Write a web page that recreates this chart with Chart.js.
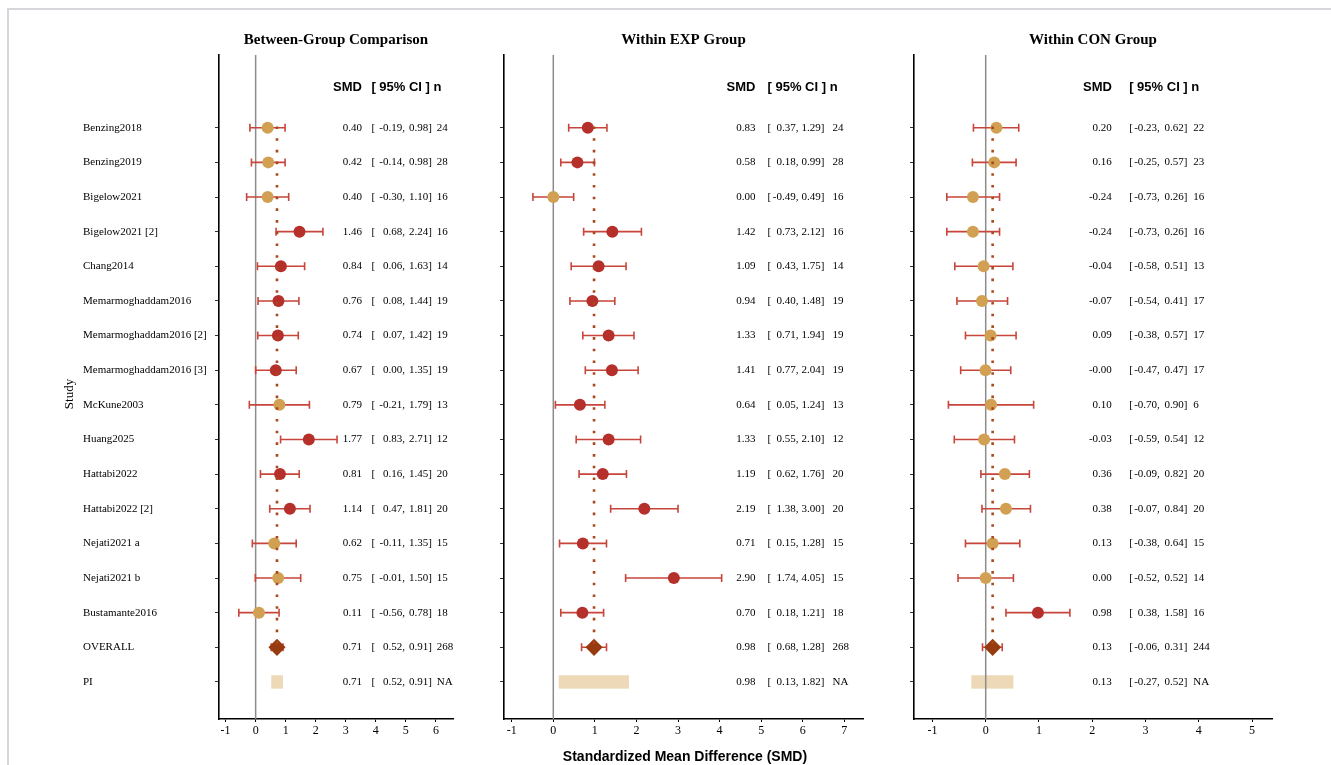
<!DOCTYPE html>
<html><head><meta charset="utf-8">
<script src="https://cdn.jsdelivr.net/npm/chart.js@4.4.1/dist/chart.umd.min.js"></script>
<style>
html,body{margin:0;padding:0;background:#fff;width:1331px;height:765px;overflow:hidden;}
#wrap{position:relative;width:1331px;height:765px;}
canvas{position:absolute;left:0;top:0;}
#frame{position:absolute;left:7px;top:8px;width:1340px;height:770px;border-top:2px solid #d6d6db;border-left:2px solid #d6d6db;}
</style></head>
<body><div id="wrap"><div id="frame"></div>
<canvas id="c1" width="1331" height="765"></canvas>
<canvas id="c2" width="1331" height="765"></canvas>
<canvas id="c3" width="1331" height="765"></canvas>
</div>
<script>
// ---------- data ----------
const studies = ['Benzing2018','Benzing2019','Bigelow2021','Bigelow2021 [2]','Chang2014','Memarmoghaddam2016','Memarmoghaddam2016 [2]','Memarmoghaddam2016 [3]','McKune2003','Huang2025','Hattabi2022','Hattabi2022 [2]','Nejati2021 a','Nejati2021 b','Bustamante2016'];
const rowLabels = [...studies, 'OVERALL', 'PI'];

const betweenSMD = [0.40,0.42,0.40,1.46,0.84,0.76,0.74,0.67,0.79,1.77,0.81,1.14,0.62,0.75,0.11];
const betweenLo  = [-0.19,-0.14,-0.30,0.68,0.06,0.08,0.07,0.00,-0.21,0.83,0.16,0.47,-0.11,-0.01,-0.56];
const betweenHi  = [0.98,0.98,1.10,2.24,1.63,1.44,1.42,1.35,1.79,2.71,1.45,1.81,1.35,1.50,0.78];
const betweenN   = [24,28,16,16,14,19,19,19,13,12,20,20,15,15,18];
const betweenOverall = [0.71, 0.52, 0.91, 268];
const betweenPI      = [0.71, 0.52, 0.91, 'NA'];

const expSMD = [0.83,0.58,0.00,1.42,1.09,0.94,1.33,1.41,0.64,1.33,1.19,2.19,0.71,2.90,0.70];
const expLo  = [0.37,0.18,-0.49,0.73,0.43,0.40,0.71,0.77,0.05,0.55,0.62,1.38,0.15,1.74,0.18];
const expHi  = [1.29,0.99,0.49,2.12,1.75,1.48,1.94,2.04,1.24,2.10,1.76,3.00,1.28,4.05,1.21];
const expN   = [24,28,16,16,14,19,19,19,13,12,20,20,15,15,18];
const expOverall = [0.98, 0.68, 1.28, 268];
const expPI      = [0.98, 0.13, 1.82, 'NA'];

const conSMD = [0.20,0.16,-0.24,-0.24,-0.04,-0.07,0.09,-0.004,0.10,-0.03,0.36,0.38,0.13,0.00,0.98];
const conLo  = [-0.23,-0.25,-0.73,-0.73,-0.58,-0.54,-0.38,-0.47,-0.70,-0.59,-0.09,-0.07,-0.38,-0.52,0.38];
const conHi  = [0.62,0.57,0.26,0.26,0.51,0.41,0.57,0.47,0.90,0.54,0.82,0.84,0.64,0.52,1.58];
const conN   = [22,23,16,16,13,17,17,17,6,12,20,20,15,14,16];
const conOverall = [0.13, -0.06, 0.31, 244];
const conPI      = [0.13, -0.27, 0.52, 'NA'];

const ticksBetween = [-1,0,1,2,3,4,5,6];
const ticksExp     = [-1,0,1,2,3,4,5,6,7];
const ticksCon     = [-1,0,1,2,3,4,5];

const panelTitles = ['Between-Group Comparison','Within EXP Group','Within CON Group'];
const xTitle = 'Standardized Mean Difference (SMD)';
const yTitle = 'Study';

// ---------- styles ----------
const COL_SIG = '#B5302A', COL_NS = '#D2A052', COL_ERR = '#C8453B', COL_DIA = '#983A10',
      COL_PI = '#EDD9B8', COL_DOT = '#A8481C', COL_ZERO = '#8c8c8c';
const SERIF = '"Liberation Serif","Times New Roman",serif';
const SANS = '"Liberation Sans",Arial,sans-serif';
const W = 1331, H = 765;
const PLOT_TOP = 55, PLOT_BOTTOM = 719, XAX_H = 30;
const Y_MIN = -2.10, Y_MAX = 17.07, HEADER_Y = -1.17;
const TXT = 11;

function fmt(v){ return (typeof v === 'number') ? v.toFixed(2) : v; }

function makePanel(id, cfg){
  const nRows = cfg.smd.length;
  const pts = cfg.smd.map((v,i)=>({x:v, y:i}));
  const ptCol = cfg.smd.map((v,i)=> (cfg.lo[i] >= 0 || cfg.hi[i] < 0) ? COL_SIG : COL_NS);
  const ovRow = nRows, piRow = nRows + 1;

  const forest = {
    id: 'forest'+id,
    beforeDatasetsDraw(chart){
      const {ctx, chartArea:a, scales:{x, y}} = chart;
      ctx.save();
      ctx.beginPath(); ctx.rect(a.left, a.top, a.right-a.left, a.bottom-a.top); ctx.clip();
      // prediction interval rectangle
      const py = y.getPixelForValue(piRow);
      ctx.fillStyle = COL_PI;
      const x1 = x.getPixelForValue(cfg.pi[1]), x2 = x.getPixelForValue(cfg.pi[2]);
      ctx.fillRect(x1, py-6.7, x2-x1, 13.4);
      // zero line
      const zx = x.getPixelForValue(0);
      ctx.strokeStyle = COL_ZERO; ctx.lineWidth = 1.5;
      ctx.beginPath(); ctx.moveTo(zx, a.top); ctx.lineTo(zx, a.bottom); ctx.stroke();
      // error bars
      ctx.strokeStyle = COL_ERR; ctx.lineWidth = 1.6;
      const bars = cfg.lo.map((l,i)=>[l, cfg.hi[i], i]).concat([[cfg.overall[1], cfg.overall[2], ovRow]]);
      bars.forEach(([l,h,r])=>{
        const yy = y.getPixelForValue(r), xl = x.getPixelForValue(l), xh = x.getPixelForValue(h);
        ctx.beginPath();
        ctx.moveTo(xl, yy); ctx.lineTo(xh, yy);
        ctx.moveTo(xl, yy-4); ctx.lineTo(xl, yy+4);
        ctx.moveTo(xh, yy-4); ctx.lineTo(xh, yy+4);
        ctx.stroke();
      });
      ctx.restore();
    },
    afterDatasetsDraw(chart){
      const {ctx, scales:{x, y}} = chart;
      ctx.save();
      const ox = x.getPixelForValue(cfg.overall[0]);
      const y0 = y.getPixelForValue(0), y1 = y.getPixelForValue(ovRow);
      ctx.strokeStyle = COL_DOT; ctx.lineWidth = 2.6; ctx.setLineDash([2.6, 9.1]);
      ctx.beginPath(); ctx.moveTo(ox, y0-1.3); ctx.lineTo(ox, y1); ctx.stroke();
      ctx.restore();
    },
    afterDraw(chart){
      const {ctx, chartArea:a, scales:{x, y}} = chart;
      ctx.save();
      ctx.fillStyle = '#000';
      ctx.textBaseline = 'middle';
      // panel title
      ctx.font = 'bold 15px ' + SERIF; ctx.textAlign = 'center';
      ctx.fillText(cfg.title, (a.left+a.right)/2, 40);
      // header
      const hy = y.getPixelForValue(HEADER_Y);
      ctx.font = 'bold 13px ' + SANS;
      ctx.textAlign = 'right'; ctx.fillText('SMD', x.getPixelForValue(cfg.cols[0]), hy);
      ctx.textAlign = 'left'; ctx.fillText('[ 95% CI ] n', x.getPixelForValue(cfg.cols[1]), hy);
      // rows
      ctx.font = TXT + 'px ' + SERIF;
      const rows = cfg.smd.map((v,i)=>[v, cfg.lo[i], cfg.hi[i], cfg.n[i], i])
        .concat([[...cfg.overall, ovRow], [...cfg.pi, piRow]]);
      rows.forEach(([v,l,h,n,r])=>{
        const yy = y.getPixelForValue(r);
        ctx.textAlign = 'right'; ctx.fillText(fmt(v), x.getPixelForValue(cfg.cols[0]), yy);
        ctx.textAlign = 'left';  ctx.fillText('[', x.getPixelForValue(cfg.cols[1]), yy);
        ctx.textAlign = 'right'; ctx.fillText(fmt(l)+',', x.getPixelForValue(cfg.cols[2]), yy);
        ctx.fillText(fmt(h)+']', x.getPixelForValue(cfg.cols[3]), yy);
        ctx.textAlign = 'left';  ctx.fillText(String(n), x.getPixelForValue(cfg.cols[4]), yy);
      });
      if (cfg.extra) cfg.extra(ctx);
      ctx.restore();
    }
  };

  return new Chart(document.getElementById(id), {
    type: 'scatter',
    data: { datasets: [
      { data: pts, pointRadius: 6, pointHoverRadius: 6, pointBackgroundColor: ptCol, pointBorderWidth: 0, pointBorderColor: 'rgba(0,0,0,0)' },
      { data: [{x: cfg.overall[0], y: ovRow}], pointStyle: 'rectRot', pointRadius: 8.6, pointHoverRadius: 8.6, pointBackgroundColor: COL_DIA, pointBorderWidth: 0, pointBorderColor: 'rgba(0,0,0,0)' }
    ]},
    options: {
      responsive: false, animation: false, devicePixelRatio: 1,
      layout: { padding: { left: cfg.padLeft, right: W - cfg.right, top: PLOT_TOP, bottom: H - PLOT_BOTTOM - XAX_H } },
      plugins: { legend: {display:false}, tooltip: {enabled:false} },
      scales: {
        x: {
          type: 'linear', min: cfg.xmin, max: cfg.xmax,
          afterBuildTicks: s => { s.ticks = cfg.ticks.map(v=>({value:v})); },
          afterFit: s => { s.height = XAX_H; },
          grid: { drawOnChartArea:false, drawTicks:true, tickLength:3, color:'#000', lineWidth:1 },
          border: { display:true, color:'#000', width:1.6 },
          ticks: { autoSkip:false, maxRotation:0, padding:2, color:'#000', font:{family:SERIF, size:12}, callback: v => String(v) }
        },
        y: {
          type: 'linear', reverse: true, min: Y_MIN, max: Y_MAX,
          afterBuildTicks: s => { s.ticks = rowLabels.map((_,i)=>({value:i})); },
          afterFit: s => { s.width = cfg.yWidth; },
          grid: { drawOnChartArea:false, drawTicks:true, tickLength:4, color:'#333', lineWidth:1 },
          border: { display:true, color:'#000', width:1.6 },
          ticks: { autoSkip:false, crossAlign:'far', padding:4, color:'#000', font:{family:SERIF, size:TXT},
                   callback: (v,i) => cfg.showLabels ? rowLabels[i] : '' }
        }
      }
    },
    plugins: [forest]
  });
}

makePanel('c1', { title: panelTitles[0], smd: betweenSMD, lo: betweenLo, hi: betweenHi, n: betweenN,
  overall: betweenOverall, pi: betweenPI, ticks: ticksBetween, xmin: -1.22, xmax: 6.57,
  cols: [3.537, 3.853, 4.968, 5.865, 6.033], padLeft: 83, yWidth: 136, right: 453, showLabels: true,
  extra: ctx => { ctx.save(); ctx.translate(70, 394); ctx.rotate(-Math.PI/2); ctx.font = '13px ' + SERIF;
    ctx.textAlign = 'center'; ctx.textBaseline = 'middle'; ctx.fillText(yTitle, 0, 0); ctx.restore(); } });

makePanel('c2', { title: panelTitles[1], smd: expSMD, lo: expLo, hi: expHi, n: expN,
  overall: expOverall, pi: expPI, ticks: ticksExp, xmin: -1.186, xmax: 7.45,
  cols: [4.864, 5.153, 5.898, 6.519, 6.716], padLeft: 484, yWidth: 20, right: 863, showLabels: false,
  extra: ctx => { ctx.font = 'bold 14px ' + SANS; ctx.textAlign = 'center'; ctx.textBaseline = 'middle';
    ctx.fillText(xTitle, 685, 757); } });

makePanel('c3', { title: panelTitles[2], smd: conSMD, lo: conLo, hi: conHi, n: conN,
  overall: conOverall, pi: conPI, ticks: ticksCon, xmin: -1.346, xmax: 5.374,
  cols: [2.368, 2.693, 3.268, 3.788, 3.897], padLeft: 894, yWidth: 20, right: 1272, showLabels: false });
</script>
</body></html>
